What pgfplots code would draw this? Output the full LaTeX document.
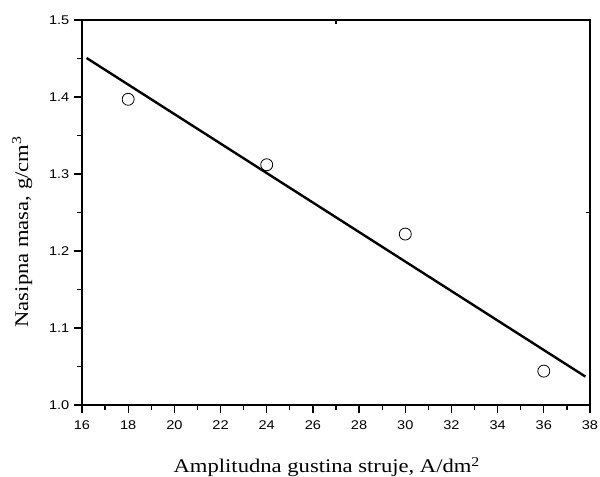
\documentclass[border=0pt]{standalone}
\usepackage{fontspec}
\setmainfont{Liberation Serif}[FakeStretch=1.17]
\newfontfamily\tickfont{Liberation Sans}[FakeStretch=1.15]
\usepackage{pgfplots}
\pgfplotsset{compat=1.18}
\begin{document}
\begin{tikzpicture}
\useasboundingbox (-61.5pt,-54pt) rectangle (388.5pt,303.75pt);
\begin{axis}[
 scale only axis, width=381pt, height=288.75pt,
 xmin=16, xmax=38, ymin=1.0, ymax=1.5,
 xtick={16,18,...,38}, ytick={1.0,1.1,1.2,1.3,1.4,1.5},
 minor x tick num=1, minor y tick num=1,
 xtick pos=left, ytick pos=left, tick align=outside,
 major tick length=6pt, minor tick length=3.5pt,
 axis line style={line width=1pt}, tick style={line width=0.9pt, black},
 ticklabel style={font=\tickfont\fontsize{9.5}{11}\selectfont},
 xticklabel style={yshift=-2.5pt},
 /pgf/number format/assume math mode=true,
 yticklabel style={/pgf/number format/.cd, fixed, fixed zerofill, precision=1},
 xlabel={Amplitudna gustina struje, A/dm\textsuperscript{2}},
 ylabel={Nasipna masa, g/cm\textsuperscript{3}},
 label style={font=\fontsize{14.5}{17}\selectfont},
 xlabel style={at={(axis description cs:0.482,-0.1766)}, anchor=base},
 ylabel style={at={(axis description cs:-0.1063,0.45)}, anchor=base},
]
\addplot[only marks, mark=o, mark size=4.5pt, mark options={line width=0.6pt}] coordinates {(18,1.397) (24,1.312) (30,1.222) (36,1.044)};
\addplot[line width=1.8pt, no marks] coordinates {(16.2,1.4506) (37.8,1.0369)};
\draw[line width=0.9pt] (axis cs:27,1.5) -- ++(0pt,-3pt);
\draw[line width=0.9pt] (axis cs:38,1.25) -- ++(-3pt,0pt);
\end{axis}
\end{tikzpicture}
\end{document}
